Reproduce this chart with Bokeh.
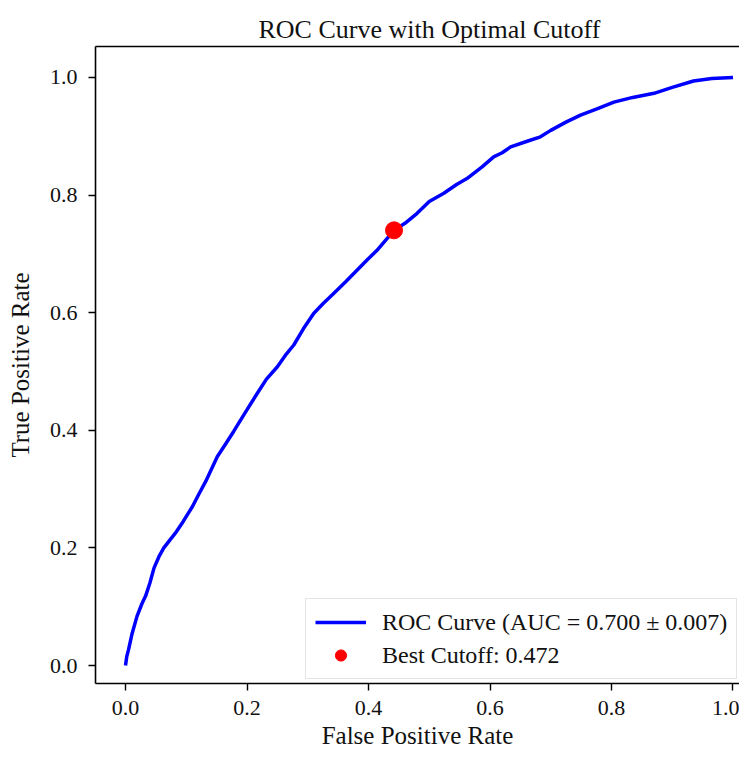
from bokeh.plotting import figure
from bokeh.models import LinearAxis, Range1d, FixedTicker, Legend, LegendItem, PrintfTickFormatter
from bokeh.embed import file_html
from bokeh.resources import INLINE

# ---- data ----
fpr = [0.0, 0.002, 0.005, 0.011, 0.019, 0.027, 0.033, 0.040, 0.047, 0.055,
       0.063, 0.072, 0.082, 0.095, 0.110, 0.120, 0.132, 0.151, 0.165, 0.178,
       0.197, 0.217, 0.232, 0.250, 0.265, 0.277, 0.293, 0.310, 0.325, 0.343,
       0.362, 0.381, 0.398, 0.414, 0.428, 0.442, 0.460, 0.480, 0.500, 0.524,
       0.545, 0.562, 0.587, 0.606, 0.620, 0.634, 0.660, 0.683, 0.700, 0.725,
       0.749, 0.775, 0.804, 0.835, 0.870, 0.900, 0.935, 0.965, 1.0]
tpr = [0.0, 0.015, 0.027, 0.055, 0.084, 0.105, 0.118, 0.140, 0.166, 0.185,
       0.200, 0.212, 0.225, 0.245, 0.270, 0.290, 0.313, 0.355, 0.377, 0.398,
       0.430, 0.463, 0.487, 0.508, 0.530, 0.545, 0.573, 0.599, 0.615, 0.633,
       0.652, 0.672, 0.690, 0.706, 0.723, 0.740, 0.752, 0.769, 0.789, 0.803,
       0.818, 0.828, 0.848, 0.865, 0.872, 0.882, 0.891, 0.899, 0.910, 0.924,
       0.936, 0.946, 0.958, 0.966, 0.973, 0.983, 0.994, 0.998, 1.0]
best_fpr = [0.442]
best_tpr = [0.740]
roc_label = "ROC Curve (AUC = 0.700 ± 0.007)"
best_label = "Best Cutoff: 0.472"
x_ticks = [0.0, 0.2, 0.4, 0.6, 0.8, 1.0]
y_ticks = [0.0, 0.2, 0.4, 0.6, 0.8, 1.0]

FONT = "Liberation Serif"

p = figure(width=739, height=751, output_backend="svg", toolbar_location=None,
           x_range=Range1d(-0.0494, 1.0107), y_range=Range1d(-0.0306, 1.0526),
           x_axis_type=None, y_axis_type=None,
           min_border_left=95, min_border_top=46, min_border_right=0,
           min_border_bottom=63)
p.grid.visible = False
p.outline_line_color = None
p.background_fill_color = "white"
p.border_fill_color = "white"

p.title.text = "ROC Curve with Optimal Cutoff"
p.title.text_font = FONT
p.title.text_font_size = "26px"
p.title.text_font_style = "normal"
p.title.text_color = "#111111"
p.title.align = "left"
p.title.offset = 163
p.title.standoff = 6

def style_axis(ax, ticks):
    ax.ticker = FixedTicker(ticks=ticks)
    ax.formatter = PrintfTickFormatter(format="%.1f")
    ax.axis_line_color = "black"
    ax.axis_line_width = 1.6
    ax.major_tick_line_color = "black"
    ax.major_tick_line_width = 1.4
    ax.major_tick_out = 7
    ax.major_tick_in = 0
    ax.minor_tick_line_color = None
    ax.major_label_text_font = FONT
    ax.major_label_text_font_size = "22px"
    ax.major_label_text_color = "#111111"
    ax.axis_label_text_font = FONT
    ax.axis_label_text_font_size = "25px"
    ax.axis_label_text_font_style = "normal"
    ax.axis_label_text_color = "#111111"

xax = LinearAxis(axis_label="False Positive Rate")
style_axis(xax, x_ticks)
xax.major_label_standoff = 10
xax.axis_label_standoff = 4
p.add_layout(xax, "below")

yax = LinearAxis(axis_label="True Positive Rate")
style_axis(yax, y_ticks)
yax.major_label_standoff = 11
yax.axis_label_standoff = 13
p.add_layout(yax, "left")

top = LinearAxis(ticker=FixedTicker(ticks=[]), major_tick_line_color=None,
                 minor_tick_line_color=None, major_label_text_font_size="0px",
                 axis_line_color="black", axis_line_width=1.6)
p.add_layout(top, "above")

r_line = p.line(fpr, tpr, line_color="blue", line_width=3.5)
r_pt = p.scatter(best_fpr, best_tpr, size=17, color="red", marker="circle")

legend = Legend(items=[LegendItem(label=roc_label, renderers=[r_line]),
                       LegendItem(label=best_label, renderers=[r_pt])],
                location=(210, 4), orientation="vertical",
                label_text_font=FONT, label_text_font_size="24px",
                label_text_color="#111111",
                glyph_width=51, glyph_height=28, label_height=28,
                label_standoff=16, padding=9, spacing=5, margin=0,
                border_line_color="#cccccc", border_line_width=1.5,
                background_fill_color="white", background_fill_alpha=0.8)
p.add_layout(legend)

open("out.html", "w").write(file_html(p, INLINE))
